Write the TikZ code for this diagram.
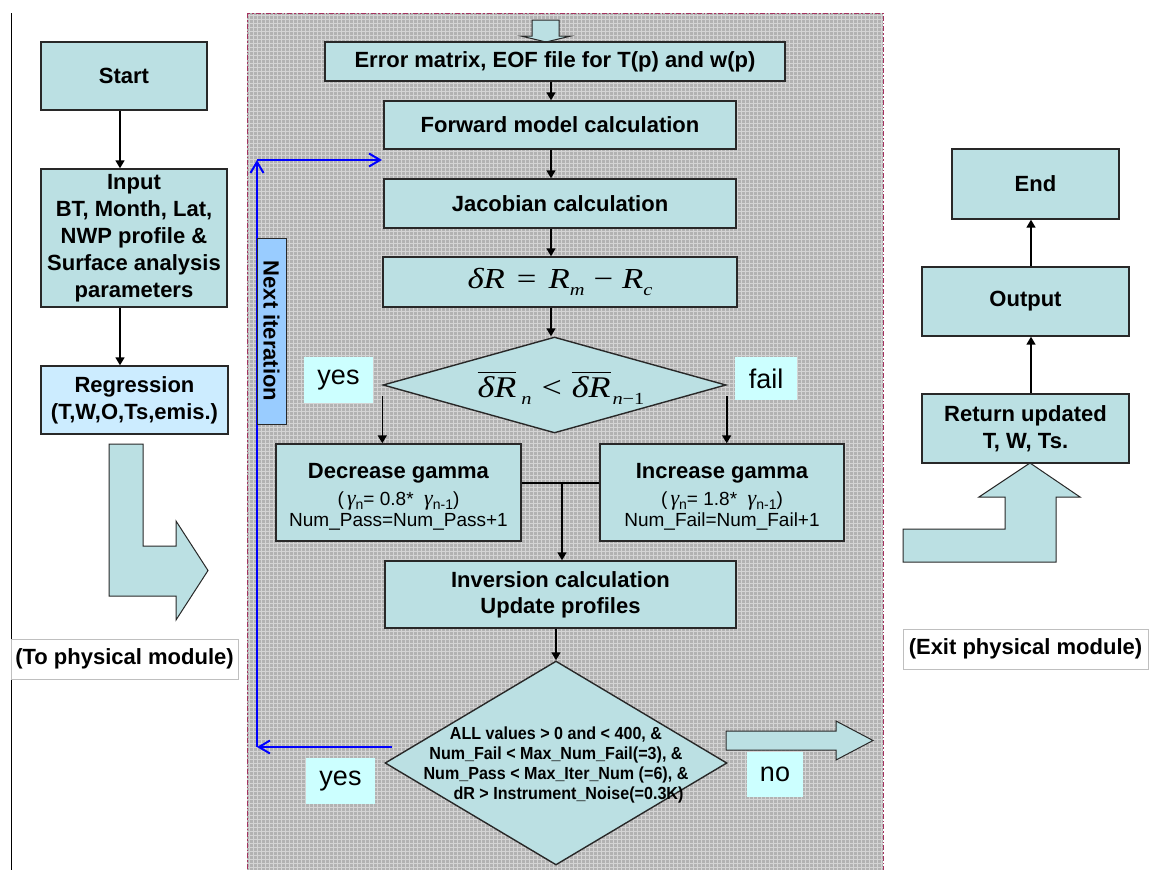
\documentclass[tikz,border=0pt]{standalone}
\usepackage{fontspec}
\setmainfont{Liberation Sans}
\newfontfamily\tms{Liberation Serif}
\newfontfamily\tmsw[FakeStretch=1.2]{Liberation Serif}
\newfontfamily\narrowf[FakeStretch=0.92]{Liberation Sans}
\usetikzlibrary{shapes.geometric,arrows.meta}
\definecolor{boxfill}{RGB}{187,224,227}
\definecolor{regfill}{RGB}{204,236,255}
\definecolor{lblfill}{RGB}{204,255,255}
\definecolor{nextfill}{RGB}{153,204,255}
\definecolor{panelfill}{RGB}{178,178,178}
\definecolor{panelgrid}{RGB}{212,212,212}
\definecolor{panelborder}{RGB}{165,50,95}
\definecolor{boxline}{RGB}{40,40,40}
\newcommand\bb{\fontsize{22}{27}\selectfont\bfseries}
\newcommand\rgf[1]{\fontsize{#1}{#1}\selectfont\mdseries}
\newcommand\gmm{{\tms\itshape\fontsize{22}{22}\selectfont γ}}
\newcommand\sbs[1]{\raisebox{-4pt}{\fontsize{14}{14}\selectfont #1}}
\newcommand\msub[1]{\raisebox{-7pt}{\fontsize{17}{17}\selectfont #1}}
\newcommand\ovl[1]{\vbox{\hrule height1.3pt\kern3pt\hbox{#1}}}
\begin{document}
\begin{tikzpicture}[x=1pt,y=-1pt,
  box/.style={draw=boxline, line width=1.4pt, fill=boxfill, inner sep=0pt, align=center, font=\bb},
  lbl/.style={fill=lblfill, inner sep=0pt, font=\fontsize{27}{27}\selectfont},
  note/.style={draw=black!25, line width=0.8pt, fill=white, inner sep=0pt, font=\bb},
  arr/.style={-{Triangle[length=8pt,width=9pt]}, line width=1.6pt, black},
  blu/.style={line width=2pt, draw=blue, -{Straight Barb[length=11pt,width=13pt,line width=2pt]}},
  blk/.style={draw=boxline, line width=1pt, fill=boxfill},
  dia/.style={draw=boxline, line width=1.4pt, fill=boxfill, diamond, inner sep=0pt}]
\useasboundingbox (0,0) rectangle (1149,870);
\fill[white] (0,0) rectangle (1149,870);
% left rule
\draw[line width=1pt] (11,13) -- (11,870);
% panel
\fill[panelfill] (247,13) rectangle (883,870);
\foreach \i in {0,...,158}{\draw[panelgrid,line width=1pt] ({249+4*\i},13) -- ({249+4*\i},870);}
\foreach \j in {0,...,214}{\draw[panelgrid,line width=1pt] (247,{15+4*\j}) -- (883,{15+4*\j});}
\draw[panelborder, line width=0.9pt, dash pattern=on 5pt off 2pt on 1.5pt off 2pt] (247,13) rectangle (883,880);

% ---------- left column ----------
\coordinate (lx) at (120,0);
\node[box, minimum width=166pt, minimum height=68pt] (start) at (124,76) {Start};
\node[box, minimum width=186pt, minimum height=138pt] (input) at (134,238) {Input\\BT, Month, Lat,\\NWP profile \&\\Surface analysis\\parameters};
\node[box, fill=regfill, minimum width=187pt, minimum height=68pt] (regr) at (134.5,400) {Regression\\(T,W,O,Ts,emis.)};
\draw[arr] (start.south -| lx) -- (input.north -| lx);
\draw[arr] (input.south -| lx) -- (regr.north -| lx);
\draw[blk] (109,444) -- (143,444) -- (143,546) -- (176,546) -- (176,521) -- (208,570.5) -- (176,620) -- (176,596) -- (109,596) -- cycle;
\node[note, minimum width=227pt, minimum height=40pt] (tophys) at (124.5,659) {(To physical module)};

% ---------- loop (blue) ----------
\coordinate (bA) at (392,747);
\coordinate (bB) at (257,747);
\coordinate (bC) at (257,160);
\coordinate (bD) at (382,160);
\draw[blu] (bA) -- (bB);
\draw[blu] (bB) -- (bC);
\draw[blu] (bC) -- (bD);
\node[draw=boxline, line width=1pt, fill=nextfill, inner sep=0pt, rotate=-90, minimum width=186pt, minimum height=29pt, font=\fontsize{22}{22}\selectfont\bfseries] (next) at (271.5,331) {Next iteration};

% ---------- centre column ----------
\draw[blk] (532,20) -- (559,20) -- (559,36) -- (571,36) -- (546,42) -- (521,36) -- (532,36) -- cycle;
\node[box, minimum width=460pt, minimum height=39pt] (err) at (555,61.5) {Error matrix, EOF file for T(p) and w(p)};
\node[box, minimum width=352pt, minimum height=48pt] (fwd) at (560,125) {Forward model calculation};
\node[box, minimum width=352pt, minimum height=49pt] (jac) at (560,203.5) {Jacobian calculation};
\node[box, minimum width=354pt, minimum height=50pt, font=\tmsw\itshape\fontsize{29}{29}\selectfont] (dR) at (560,282)
  {δR\hspace{12pt}\upshape=\hspace{12pt}\itshape R\msub{m}\hspace{9pt}\upshape−\hspace{9pt}\itshape R\msub{c}};
\coordinate (cx) at (551,0);
\draw[arr] (err.south -| cx) -- (fwd.north -| cx);
\draw[arr] (fwd.south -| cx) -- (jac.north -| cx);
\draw[arr] (jac.south -| cx) -- (dR.north -| cx);
\node[dia, minimum width=343pt, minimum height=96pt] (d1) at (554.5,385) {};
\node[inner sep=0pt, font=\tmsw\itshape\fontsize{30}{30}\selectfont] (d1t) at (561,388)
  {\ovl{δR}\hspace{5pt}\msub{n}\hspace{10pt}\upshape<\hspace{10pt}\itshape\ovl{δR}\hspace{2pt}\msub{n\upshape −1}};
\draw[arr] (dR.south -| cx) -- (d1.north -| cx);
\node[lbl, minimum width=69pt, minimum height=46pt] (yes1) at (338.5,380) {yes};
\node[lbl, minimum width=62pt, minimum height=43pt] (fail) at (766,378.5) {fail};

\node[box, minimum width=245pt, minimum height=97pt] (dec) at (398.5,492.5)
  {\rule{0pt}{24pt}Decrease gamma\\{\rgf{19}(\,\gmm\sbs{n}= 0.8*\ \ \gmm\sbs{n-1})}\\[-6pt]{\rgf{19}Num\_Pass=Num\_Pass+1}};
\node[box, minimum width=244pt, minimum height=97pt] (inc) at (722,492.5)
  {\rule{0pt}{24pt}Increase gamma\\{\rgf{19}(\,\gmm\sbs{n}= 1.8*\ \ \gmm\sbs{n-1})}\\[-6pt]{\rgf{19}Num\_Fail=Num\_Fail+1}};
\draw[arr] ([yshift=-11pt]d1.west) -- (d1.west |- dec.north);
\draw[arr] ([yshift=-11pt]d1.east) -- (d1.east |- inc.north);

\node[box, minimum width=351pt, minimum height=67pt] (inv) at (560.5,594.5) {Inversion calculation\\[-1pt]Update profiles};
\coordinate (jn) at (562,483);
\draw[line width=1.6pt] (jn -| dec.east) -- (jn -| inc.west);
\draw[arr] (jn) -- (jn |- inv.north);

\node[dia, minimum width=342pt, minimum height=204pt] (d2) at (556,763) {};
\draw[arr] (inv.south -| d2.north) -- (d2.north);
\node[font=\narrowf\bfseries\fontsize{17.5}{19.7}\selectfont, align=center, inner sep=0pt] (d2t) at (556,765)
  {ALL values > 0 and < 400, \&\\Num\_Fail < Max\_Num\_Fail(=3), \&\\Num\_Pass < Max\_Iter\_Num (=6), \&\\\hspace*{25pt}dR > Instrument\_Noise(=0.3K)};
\node[lbl, minimum width=69pt, minimum height=46pt] (yes2) at (340.5,781) {yes};
\node[lbl, minimum width=56pt, minimum height=45pt] (no) at (775,774.5) {no};
\draw[blk] (726,731) -- (836,731) -- (836,721) -- (873,740.5) -- (836,760) -- (836,750) -- (726,750) -- cycle;

% ---------- right column ----------
\coordinate (rx) at (1031,0);
\node[box, minimum width=167pt, minimum height=70pt] (endb) at (1035.5,184) {End};
\node[box, minimum width=207pt, minimum height=69pt] (outb) at (1025.5,301.5) {Output};
\node[box, minimum width=207pt, minimum height=69pt] (retb) at (1025.5,428.5) {Return updated\\T, W, Ts.};
\draw[arr] (outb.north -| rx) -- (endb.south -| rx);
\draw[arr] (retb.north -| rx) -- (outb.south -| rx);
\draw[blk] (903,529) -- (1005,529) -- (1005,497) -- (979,497) -- (1030,463) -- (1080,497) -- (1056,497) -- (1056,562) -- (903,562) -- cycle;
\node[note, minimum width=245pt, minimum height=40pt] (exitb) at (1025.5,649) {(Exit physical module)};
\end{tikzpicture}
\end{document}
